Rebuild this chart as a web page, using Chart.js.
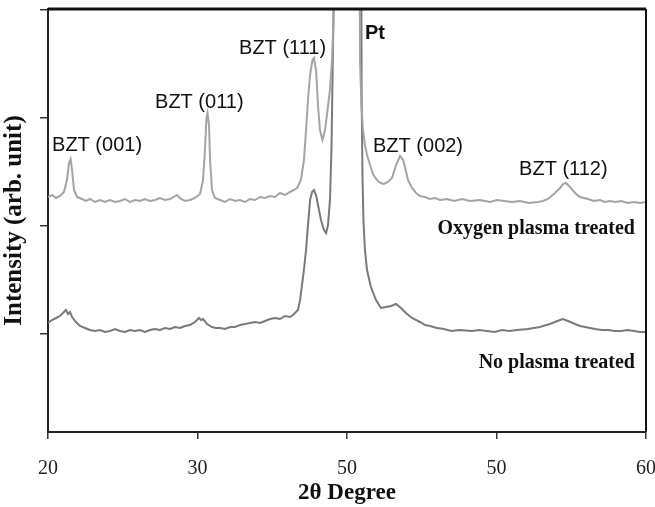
<!DOCTYPE html>
<html>
<head>
<meta charset="utf-8">
<script src="https://cdn.jsdelivr.net/npm/chart.js@4"></script>
<style>
  html, body { margin: 0; padding: 0; background: #fff; }
  #wrap { width: 655px; height: 507px; }
</style>
</head>
<body>
<div id="wrap"><canvas id="xrd"></canvas></div>
<script>
// tick labels as printed on the figure
const xTickLabels = ["20", "30", "50", "50", "60"];
const yTickValues = [98, 206, 314, 422];

// oxygen plasma treated film (2theta, arb. intensity)
const oxygenAngle = [
  20.00, 20.27, 20.54, 20.80, 21.07, 21.27, 21.40, 21.51, 21.61, 21.74,
  21.94, 22.27, 22.54, 22.81, 23.14, 23.48, 23.81, 24.15, 24.48, 24.82,
  25.15, 25.48, 25.82, 26.15, 26.48, 26.82, 27.15, 27.49, 27.82, 28.16,
  28.40, 28.63, 28.90, 29.16, 29.50, 29.83, 30.17, 30.37, 30.50, 30.60,
  30.67, 30.77, 30.84, 30.97, 31.17, 31.51, 31.84, 32.17, 32.51, 32.84,
  33.18, 33.51, 33.85, 34.18, 34.52, 34.85, 35.18, 35.52, 35.85, 36.19,
  36.45, 36.66, 36.92, 37.12, 37.26, 37.39, 37.53, 37.69, 37.79, 37.93,
  38.06, 38.19, 38.36, 38.53, 38.70, 38.86, 39.00, 39.10, 39.20, 40.00,
  40.80, 40.87, 40.97, 41.07, 41.20, 41.34, 41.54, 41.74, 41.90, 42.07,
  42.27, 42.47, 42.74, 43.01, 43.28, 43.55, 43.75, 43.88, 44.08, 44.35,
  44.62, 44.88, 45.22, 45.55, 45.88, 46.22, 46.69, 47.16, 47.69, 48.23,
  48.90, 49.57, 50.03, 50.50, 51.03, 51.57, 52.17, 52.78, 53.11, 53.44,
  53.68, 53.91, 54.25, 54.45, 54.65, 54.92, 55.25, 55.59, 56.12, 56.52,
  56.92, 57.25, 57.59, 57.96, 58.33, 58.76, 59.20, 59.60, 60.00
];
const oxygenIntensity = [
  235, 237, 234, 236, 240, 252, 269, 273, 262, 242,
  235, 233, 231, 233, 230, 232, 230, 232, 230, 231,
  233, 230, 232, 231, 233, 231, 232, 234, 232, 233,
  235, 237, 233, 231, 232, 234, 238, 252, 282, 314,
  319, 307, 272, 242, 234, 232, 230, 233, 231, 232,
  230, 233, 232, 235, 234, 236, 235, 239, 237, 240,
  242, 244, 252, 272, 302, 332, 357, 372, 374, 362,
  327, 302, 292, 302, 322, 342, 372, 412, 732, 2000,
  732, 372, 325, 302, 287, 277, 267, 258, 254, 251,
  249, 248, 250, 254, 267, 276, 272, 265, 252, 244,
  239, 236, 235, 233, 234, 232, 233, 231, 233, 231,
  232, 230, 232, 231, 230, 231, 229, 230, 231, 233,
  236, 239, 244, 248, 249, 245, 239, 235, 233, 231,
  232, 230, 231, 230, 231, 229, 230, 229, 230
];

// film without plasma treatment
const noPlasmaAngle = [
  20.00, 20.27, 20.54, 20.80, 21.00, 21.20, 21.34, 21.47, 21.61, 21.87,
  22.14, 22.47, 22.81, 23.14, 23.48, 23.81, 24.15, 24.48, 24.82, 25.15,
  25.48, 25.82, 26.15, 26.48, 26.82, 27.15, 27.49, 27.82, 28.16, 28.50,
  28.83, 29.16, 29.50, 29.83, 30.10, 30.24, 30.37, 30.64, 30.97, 31.24,
  31.51, 31.84, 32.17, 32.51, 32.84, 33.18, 33.51, 33.85, 34.18, 34.52,
  34.85, 35.18, 35.52, 35.85, 36.19, 36.39, 36.72, 36.86, 36.99, 37.12,
  37.26, 37.39, 37.53, 37.66, 37.79, 37.93, 38.06, 38.26, 38.46, 38.60,
  38.73, 38.86, 38.96, 39.03, 39.10, 39.16, 40.00, 40.90, 40.98, 41.04,
  41.10, 41.20, 41.34, 41.60, 41.94, 42.27, 42.61, 42.94, 43.28, 43.61,
  43.94, 44.35, 44.88, 45.22, 45.55, 46.02, 46.48, 46.99, 47.49, 48.36,
  48.86, 49.36, 49.87, 50.37, 50.87, 51.37, 52.10, 52.90, 53.57, 53.91,
  54.25, 54.45, 54.78, 55.25, 55.59, 55.92, 56.59, 57.04, 57.49, 57.91,
  58.33, 58.76, 59.20, 59.60, 60.00
];
const noPlasmaIntensity = [
  109, 112, 114, 116, 119, 122, 118, 120, 115, 110,
  106, 104, 102, 101, 102, 100, 101, 103, 101, 100,
  102, 101, 102, 100, 102, 103, 102, 104, 103, 105,
  104, 106, 107, 110, 114, 112, 113, 108, 105, 104,
  104, 103, 105, 105, 107, 108, 109, 110, 109, 111,
  113, 114, 113, 116, 115, 117, 122, 132, 147, 162,
  182, 207, 232, 240, 242, 237, 227, 212, 202, 199,
  207, 232, 282, 352, 422, 732, 2000, 732, 332, 252,
  212, 182, 162, 145, 132, 124, 125, 126, 128, 124,
  119, 114, 110, 107, 106, 104, 103, 101, 102, 101,
  102, 101, 100, 102, 101, 102, 103, 105, 108, 110,
  112, 113, 111, 108, 106, 105, 103, 102, 102, 101,
  101, 102, 101, 100, 100
];

// peak annotations (anchor = left end of text baseline)
const peakNames = ["BZT (001)", "BZT (011)", "BZT (111)", "Pt", "BZT (002)", "BZT (112)"];
const peakLabelAngle = [20.27, 27.16, 32.78, 41.20, 41.74, 51.51];
const peakLabelLevel = [281, 324, 378, 393, 280, 257];

// curve names (anchor = right end of text baseline)
const curveNames = ["Oxygen plasma treated", "No plasma treated"];
const curveLabelAngle = [59.26, 59.26];
const curveLabelLevel = [198, 64];

const toPoints = (xs, ys) => xs.map((x, i) => ({ x: x, y: ys[i] }));

const annotate = {
  id: "annotate",
  afterDatasetsDraw(chart) {
    const { ctx, chartArea: a, scales: { x, y } } = chart;
    ctx.save();
    // box frame
    ctx.strokeStyle = "#111";
    ctx.lineWidth = 3;
    ctx.beginPath();
    ctx.moveTo(a.left, a.top);
    ctx.lineTo(a.right, a.top);
    ctx.stroke();
    ctx.lineWidth = 2;
    ctx.beginPath();
    ctx.moveTo(a.right, a.top);
    ctx.lineTo(a.right, a.bottom);
    ctx.stroke();

    ctx.fillStyle = "#111";
    ctx.textBaseline = "alphabetic";
    ctx.textAlign = "left";
    peakNames.forEach((t, i) => {
      ctx.font = t === "Pt" ? "bold 20px 'Liberation Sans', Arial, sans-serif"
                            : "20px 'Liberation Sans', Arial, sans-serif";
      ctx.fillText(t, x.getPixelForValue(peakLabelAngle[i]), y.getPixelForValue(peakLabelLevel[i]));
    });
    ctx.textAlign = "right";
    ctx.font = "bold 20px 'Liberation Serif', 'Times New Roman', serif";
    curveNames.forEach((t, i) => {
      ctx.fillText(t, x.getPixelForValue(curveLabelAngle[i]), y.getPixelForValue(curveLabelLevel[i]));
    });
    ctx.restore();
  }
};

new Chart(document.getElementById("xrd"), {
  type: "line",
  data: {
    datasets: [
      {
        label: "Oxygen plasma treated",
        data: toPoints(oxygenAngle, oxygenIntensity),
        borderColor: "#a4a4a4",
        borderWidth: 2,
        pointRadius: 0,
        clip: 0,
      },
      {
        label: "No plasma treated",
        data: toPoints(noPlasmaAngle, noPlasmaIntensity),
        borderColor: "#7a7a7a",
        borderWidth: 2,
        pointRadius: 0,
        clip: 0,
      },
    ],
  },
  options: {
    responsive: true,
    maintainAspectRatio: false,
    animation: false,
    layout: { padding: { left: 0, right: 9, top: 9, bottom: 0 } },
    plugins: {
      legend: { display: false },
      tooltip: { enabled: false },
    },
    scales: {
      x: {
        type: "linear",
        min: 20,
        max: 60,
        afterFit: (s) => { s.height = 75; s.paddingLeft = 0; s.paddingRight = 0; },
        ticks: {
          stepSize: 10,
          padding: 18,
          color: "#222",
          font: { family: "'Liberation Serif', 'Times New Roman', serif", size: 20 },
          callback: (v, i) => xTickLabels[i],
        },
        grid: { drawOnChartArea: false, tickLength: 7, color: "#333", lineWidth: 1.5 },
        border: { color: "#222", width: 2 },
        title: {
          display: true,
          text: "2θ Degree",
          color: "#111",
          font: { family: "'Liberation Serif', 'Times New Roman', serif", size: 23, weight: "bold" },
          padding: { top: 0, bottom: 0 },
        },
      },
      y: {
        min: 0,
        max: 423,
        afterFit: (s) => { s.width = 48; s.paddingTop = 0; s.paddingBottom = 0; },
        afterBuildTicks: (s) => { s.ticks = yTickValues.map((v) => ({ value: v })); },
        ticks: { callback: () => "" },
        grid: { drawOnChartArea: false, tickLength: 8, color: "#333", lineWidth: 1.5 },
        border: { color: "#222", width: 2 },
        title: {
          display: true,
          text: "Intensity (arb. unit)",
          color: "#111",
          font: { family: "'Liberation Serif', 'Times New Roman', serif", size: 25, weight: "bold" },
          padding: { top: 0, bottom: 0 },
        },
      },
    },
  },
  plugins: [annotate],
});
</script>
</body>
</html>
